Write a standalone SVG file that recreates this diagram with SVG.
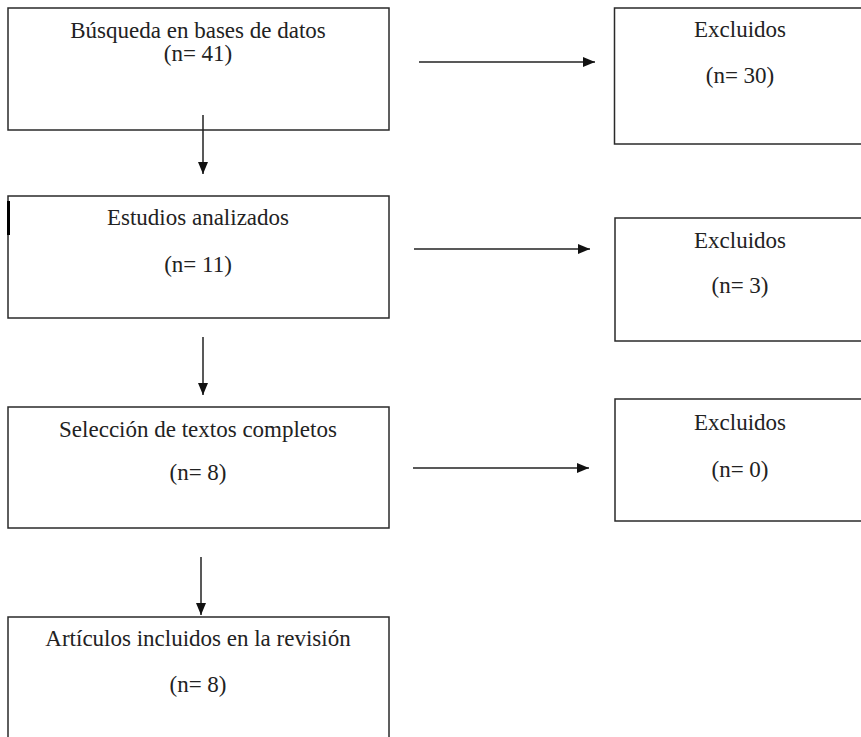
<svg xmlns="http://www.w3.org/2000/svg" width="861" height="737" viewBox="0 0 861 737">
<style>
.box{fill:#fff;stroke:#2a2a2a;stroke-width:1.5}
.t{font-family:"Liberation Serif","Times New Roman",serif;font-size:23px;fill:#222;text-anchor:middle}
.c{stroke:#222;stroke-width:1.5;fill:none}
</style>
<defs>
<marker id="ah" markerUnits="userSpaceOnUse" markerWidth="13" markerHeight="11" refX="12" refY="5" orient="auto">
<path d="M0,0 L12,5 L0,10 z" fill="#111"/>
</marker>
</defs>
<rect x="0" y="0" width="861" height="737" fill="#fff"/>
<g id="n1">
<rect class="box" x="8" y="8" width="381" height="122"/>
<text class="t" x="198" y="38">Búsqueda en bases de datos</text>
<text class="t" x="198" y="61">(n= 41)</text>
</g>
<g id="e1">
<rect class="box" x="614.5" y="8" width="260" height="136"/>
<text class="t" x="740" y="37">Excluidos</text>
<text class="t" x="740" y="83">(n= 30)</text>
</g>
<g id="n2">
<rect class="box" x="8" y="196" width="381" height="122"/>
<rect x="7" y="201" width="3" height="34" fill="#000"/>
<text class="t" x="198" y="225">Estudios analizados</text>
<text class="t" x="198" y="272">(n= 11)</text>
</g>
<g id="e2">
<rect class="box" x="615" y="218" width="260" height="123"/>
<text class="t" x="740" y="248">Excluidos</text>
<text class="t" x="740" y="293">(n= 3)</text>
</g>
<g id="n3">
<rect class="box" x="8" y="407" width="381" height="121"/>
<text class="t" x="198" y="437">Selección de textos completos</text>
<text class="t" x="198" y="480">(n= 8)</text>
</g>
<g id="e3">
<rect class="box" x="615" y="399" width="260" height="122"/>
<text class="t" x="740" y="430">Excluidos</text>
<text class="t" x="740" y="477">(n= 0)</text>
</g>
<g id="n4">
<rect class="box" x="8" y="617" width="381" height="140"/>
<text class="t" x="198" y="646">Artículos incluidos en la revisión</text>
<text class="t" x="198" y="692">(n= 8)</text>
</g>
<g id="connectors">
<line class="c" x1="419" y1="62" x2="595" y2="62" marker-end="url(#ah)"/>
<line class="c" x1="203" y1="115" x2="203" y2="174" marker-end="url(#ah)"/>
<line class="c" x1="414" y1="249" x2="590" y2="249" marker-end="url(#ah)"/>
<line class="c" x1="203" y1="337" x2="203" y2="395" marker-end="url(#ah)"/>
<line class="c" x1="413" y1="468" x2="589" y2="468" marker-end="url(#ah)"/>
<line class="c" x1="201" y1="557" x2="201" y2="615" marker-end="url(#ah)"/>
</g>
</svg>
